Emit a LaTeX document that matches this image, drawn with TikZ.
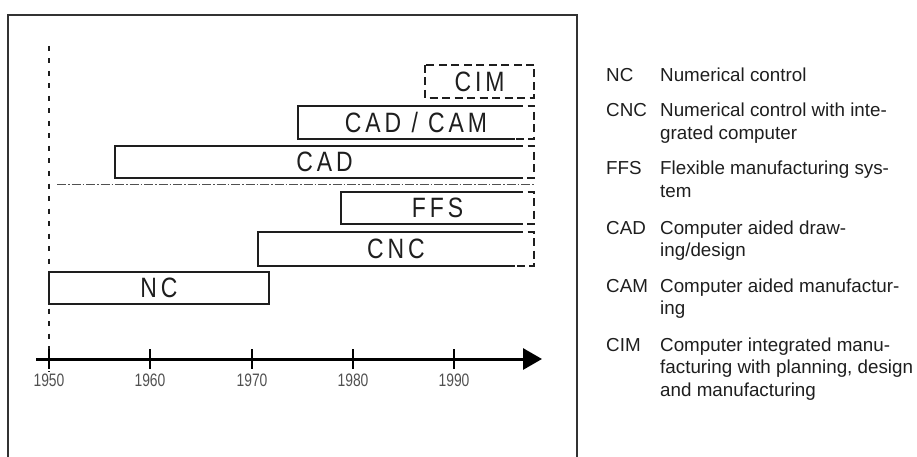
\documentclass[tikz,border=0pt]{standalone}
\usepackage{fontspec}
\setmainfont{Liberation Sans}
\newfontfamily\barfont[FakeStretch=0.82,LetterSpace=14]{Liberation Sans}
\newfontfamily\tickfont[FakeStretch=0.77]{Liberation Sans}
\usepackage{xcolor}
\definecolor{inkdark}{RGB}{30,30,30}
\definecolor{tickgray}{RGB}{80,80,80}
\definecolor{framegray}{RGB}{50,50,50}
\usetikzlibrary{arrows.meta}
\tikzset{
  frame/.style    = {draw=framegray, line width=1.5pt},
  bar/.style      = {draw=inkdark, line width=1.3pt},
  ext/.style      = {draw=inkdark, line width=1.3pt, dash pattern=on 8pt off 4.5pt},
  refline/.style  = {draw=inkdark, line width=1.2pt, dash pattern=on 5pt off 7.5pt},
  divider/.style  = {draw=tickgray, line width=1pt, dash pattern=on 9pt off 2pt on 1.5pt off 2pt},
  axis/.style     = {draw=black, line width=3pt, -{Triangle[length=19pt, width=21pt]}},
  tick/.style     = {draw=black, line width=2.5pt},
  barlabel/.style = {inner sep=0pt, text=inkdark, font=\barfont\fontsize{28}{28}\selectfont},
  year/.style     = {inner sep=0pt, text=tickgray, font=\tickfont\fontsize{18}{18}\selectfont},
  abbr/.style     = {anchor=base west, inner sep=0pt, text=inkdark, font=\fontsize{18.8}{22.5}\selectfont},
  desc/.style     = {abbr},
}
\begin{document}
\begin{tikzpicture}[x=1pt, y=-1pt]
    \useasboundingbox (0,0) rectangle (917,457);

    % frame round the chart
    \draw[frame] (8,457) -- (8,15) -- (577,15) -- (577,457);

    % 1950 reference line
    \draw[refline] (49,46) -- (49,372);

    % time axis
    \coordinate (axstart) at (36,359);
    \coordinate (axend) at (542,359);
    \draw[axis] (axstart) -- (axend);

    % ticks and years
    \draw[tick] (49,349) -- (49,369);
    \draw[tick] (150,349) -- (150,369);
    \draw[tick] (252,349) -- (252,369);
    \draw[tick] (353,349) -- (353,369);
    \draw[tick] (454,349) -- (454,369);
    \node[year] (y1950) at (49,380) {1950};
    \node[year] (y1960) at (150,380) {1960};
    \node[year] (y1970) at (252,380) {1970};
    \node[year] (y1980) at (353,380) {1980};
    \node[year] (y1990) at (454,380) {1990};

    % NC
    \draw[bar] (49,272) rectangle (269,304);
    \node[barlabel] (nc) at (159,288) {NC};

    % CNC
    \draw[bar] (515,232) -- (258,232) -- (258,266) -- (515,266);
    \draw[ext] (515,232) -- (534,232) -- (534,266) -- (515,266);
    \node[barlabel] (cnc) at (396,249) {CNC};

    % FFS
    \draw[bar] (515,192) -- (341,192) -- (341,224) -- (515,224);
    \draw[ext] (515,192) -- (534,192) -- (534,224) -- (515,224);
    \node[barlabel] (ffs) at (437.5,208) {FFS};

    % divider
    \draw[divider] (57,184.5) -- (534,184.5);

    % CAD
    \draw[bar] (515,146) -- (115,146) -- (115,178) -- (515,178);
    \draw[ext] (515,146) -- (534,146) -- (534,178) -- (515,178);
    \node[barlabel] (cad) at (324.5,162) {CAD};

    % CAD / CAM
    \draw[bar] (515,106) -- (298,106) -- (298,139) -- (515,139);
    \draw[ext] (515,106) -- (534,106) -- (534,139) -- (515,139);
    \node[barlabel] (cadcam) at (416,122.5) {CAD / CAM};

    % CIM
    \draw[ext] (425,65) rectangle (534,98);
    \node[barlabel] (cim) at (479.5,82) {CIM};

    % legend
    \node[abbr] (kNC) at (606,82) {NC};
    \node[desc] (dNC) at (660,82) {Numerical control};
    \node[abbr] (kCNC) at (606,117) {CNC};
    \node[desc] (dCNC) at (660,117)
      {\begin{tabular}[t]{@{}l@{}}Numerical control with inte-\\grated computer\end{tabular}};
    \node[abbr] (kFFS) at (606,175) {FFS};
    \node[desc] (dFFS) at (660,175)
      {\begin{tabular}[t]{@{}l@{}}Flexible manufacturing sys-\\tem\end{tabular}};
    \node[abbr] (kCAD) at (606,234) {CAD};
    \node[desc] (dCAD) at (660,234)
      {\begin{tabular}[t]{@{}l@{}}Computer aided draw-\\ing/design\end{tabular}};
    \node[abbr] (kCAM) at (606,292) {CAM};
    \node[desc] (dCAM) at (660,292)
      {\begin{tabular}[t]{@{}l@{}}Computer aided manufactur-\\ing\end{tabular}};
    \node[abbr] (kCIM) at (606,351) {CIM};
    \node[desc] (dCIM) at (660,351)
      {\begin{tabular}[t]{@{}l@{}}Computer integrated manu-\\facturing with planning, design\\and manufacturing\end{tabular}};
  \end{tikzpicture}
\end{document}
